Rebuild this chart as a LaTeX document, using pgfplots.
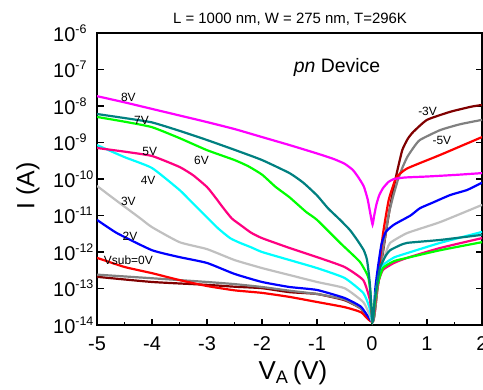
\documentclass[border=0pt]{standalone}
\usepackage{fontspec}
\setmainfont{Liberation Sans}
\usepackage{pgfplots}
\pgfplotsset{compat=1.18}
\usetikzlibrary{calc}
\definecolor{cMag}{RGB}{255,0,255}
\definecolor{cTeal}{RGB}{0,128,128}
\definecolor{cGreen}{RGB}{0,255,0}
\definecolor{cPink}{RGB}{255,0,128}
\definecolor{cCyan}{RGB}{0,255,255}
\definecolor{cLGray}{RGB}{192,192,192}
\definecolor{cBlue}{RGB}{0,0,255}
\definecolor{cRed}{RGB}{255,0,0}
\definecolor{cDRed}{RGB}{128,0,0}
\definecolor{cGray}{RGB}{128,128,128}
\begin{document}
\begin{tikzpicture}
\begin{axis}[name=ax, scale only axis, width=385bp, height=292bp,
  xmin=-5, xmax=2, ymode=log, log basis y=10, ymin=1e-14, ymax=1e-6,
  ytickten={-14,...,-6},
  xtick={-5,...,2}, minor x tick num=1,
  xtick pos=bottom, ytick pos=both,
  tick align=inside,
  axis line style={line width=2.6bp},
  major tick length=6.5bp, minor tick length=3.5bp,
  tick style={black, line width=1.8bp},
  xticklabel style={font=\fontsize{20}{20}\selectfont, /pgf/number format/assume math mode=true, yshift=-8bp},
  yticklabel={10\raisebox{0.42em}{\fontsize{12.5}{12.5}\selectfont\pgfmathprintnumber[assume math mode=true]{\tick}}},
  yticklabel style={font=\fontsize{20}{20}\selectfont, anchor=west, inner sep=0pt, xshift=-44bp},
  every axis plot/.append style={line width=2.2bp, no markers, smooth, tension=0.3},
]
\addplot[cDRed] coordinates {(-5,2.09e-13)(-4,1.51e-13)(-3,1.26e-13)(-2.5,1.12e-13)(-2,1.02e-13)(-1.5,7.94e-14)(-1,7.08e-14)(-0.5,4.79e-14)(-0.2,2.82e-14)(0.02,1.26e-14)(0.1,1.0e-13)(0.2,1.0e-12)(0.28,6.31e-12)(0.33,1.78e-11)(0.4,6.31e-11)(0.45,1.45e-10)(0.55,6.17e-10)(0.65,1.26e-9)(0.75,1.95e-9)(1.0,4.17e-9)(1.42,6.92e-9)(1.8,9.55e-9)(2,1.07e-8)};
\addplot[cGray] coordinates {(-5,2.40e-13)(-4,1.91e-13)(-3,1.51e-13)(-2.5,1.32e-13)(-2,1.10e-13)(-1.5,8.71e-14)(-1,7.08e-14)(-0.5,5.01e-14)(-0.2,2.82e-14)(0.02,1.26e-14)(0.1,1.0e-13)(0.2,1.12e-12)(0.3,1.0e-11)(0.38,3.16e-11)(0.47,9.33e-11)(0.55,2.00e-10)(0.64,3.98e-10)(0.75,7.08e-10)(0.87,1.17e-9)(1.24,2.19e-9)(1.6,3.16e-9)(2,4.17e-9)};
\addplot[cRed] coordinates {(-5,6.92e-13)(-4.5,3.89e-13)(-4,2.63e-13)(-3.5,1.70e-13)(-3,1.17e-13)(-2.5,8.91e-14)(-2,7.59e-14)(-1.5,5.89e-14)(-1,4.27e-14)(-0.5,3.09e-14)(-0.2,2.24e-14)(0.01,1.26e-14)(0.1,1.58e-13)(0.2,3.16e-12)(0.3,2.51e-11)(0.38,6.31e-11)(0.45,1.15e-10)(0.64,1.95e-10)(1.24,4.57e-10)(2,1.41e-9)};
\addplot[cBlue] coordinates {(-5,7.59e-12)(-4.64,3.31e-12)(-4,1.12e-12)(-3.5,7.24e-13)(-3,5.01e-13)(-2.5,2.51e-13)(-2,1.51e-13)(-1.5,1.10e-13)(-1,9.12e-14)(-0.5,5.50e-14)(-0.2,3.16e-14)(0.01,1.26e-14)(0.06,1.0e-13)(0.1,3.16e-13)(0.17,1.58e-12)(0.25,3.55e-12)(0.4,5.62e-12)(0.7,1.0e-11)(0.87,1.58e-11)(1.1,2.24e-11)(1.42,3.63e-11)(1.73,5.01e-11)(2,7.94e-11)};
\addplot[cLGray] coordinates {(-5,6.46e-11)(-4.64,2.51e-11)(-4.22,8.51e-12)(-4,4.79e-12)(-3.5,1.86e-12)(-3,1.20e-12)(-2.5,6.03e-13)(-2,3.63e-13)(-1.5,2.34e-13)(-1,1.51e-13)(-0.5,1.02e-13)(-0.16,4.27e-14)(-0.05,2.00e-14)(0.01,1.26e-14)(0.07,7.94e-14)(0.15,3.16e-13)(0.27,1.12e-12)(0.33,1.78e-12)(0.64,3.31e-12)(1.24,6.61e-12)(2,1.95e-11)};
\addplot[cCyan] coordinates {(-5,8.51e-10)(-4.5,3.98e-10)(-4,2.00e-10)(-3.5,5.01e-11)(-3.3,2.51e-11)(-3.1,1.26e-11)(-2.8,4.47e-12)(-2.58,2.40e-12)(-2.4,1.78e-12)(-2.2,1.35e-12)(-2,1.0e-12)(-1.5,6.03e-13)(-1,3.63e-13)(-0.5,1.95e-13)(-0.16,7.59e-14)(-0.05,3.16e-14)(0.01,1.26e-14)(0.06,6.31e-14)(0.12,2.00e-13)(0.2,4.37e-13)(0.4,7.08e-13)(0.64,9.33e-13)(1.24,1.78e-12)(2,3.55e-12)};
\addplot[cPink] coordinates {(-5,7.08e-10)(-4.5,5.62e-10)(-4,4.27e-10)(-3.5,2.14e-10)(-3.25,1.26e-10)(-3,6.03e-11)(-2.85,3.16e-11)(-2.7,1.58e-11)(-2.55,8.32e-12)(-2.4,5.62e-12)(-2.2,3.39e-12)(-2,2.40e-12)(-1.5,1.29e-12)(-1,7.24e-13)(-0.5,3.89e-13)(-0.16,1.70e-13)(-0.04,5.01e-14)(0.01,1.26e-14)(0.06,5.01e-14)(0.12,1.58e-13)(0.2,3.24e-13)(0.4,5.01e-13)(0.64,6.92e-13)(1.24,1.29e-12)(2,2.40e-12)};
\addplot[cGreen] coordinates {(-5,5.01e-9)(-4.5,3.72e-9)(-4,2.63e-9)(-3.5,1.32e-9)(-3,6.17e-10)(-2.5,3.31e-10)(-2.25,2.24e-10)(-2,1.32e-10)(-1.75,6.03e-11)(-1.5,3.16e-11)(-1.2,1.26e-11)(-1,7.59e-12)(-0.58,1.78e-12)(-0.22,5.37e-13)(-0.07,2.09e-13)(-0.03,7.94e-14)(0.01,1.26e-14)(0.05,3.98e-14)(0.1,1.26e-13)(0.2,3.63e-13)(0.4,5.62e-13)(0.64,6.92e-13)(1.24,1.12e-12)(2,1.86e-12)};
\addplot[cTeal] coordinates {(-5,6.03e-9)(-4.5,4.68e-9)(-4,3.55e-9)(-3.5,2.09e-9)(-3,1.17e-9)(-2.5,6.31e-10)(-2,3.31e-10)(-1.5,1.45e-10)(-1.25,7.94e-11)(-1,3.55e-11)(-0.8,1.58e-11)(-0.58,7.59e-12)(-0.4,3.98e-12)(-0.27,2.14e-12)(-0.15,1.12e-12)(-0.09,6.03e-13)(-0.04,1.41e-13)(0.01,1.26e-14)(0.05,5.01e-14)(0.1,1.58e-13)(0.15,3.89e-13)(0.25,7.94e-13)(0.33,1.12e-12)(0.5,1.51e-12)(0.64,1.78e-12)(1.24,2.14e-12)(2,2.95e-12)};
\addplot[cMag] coordinates {(-5,1.86e-8)(-4.5,1.26e-8)(-4,8.32e-9)(-3.5,5.50e-9)(-3,3.63e-9)(-2.5,2.34e-9)(-2,1.41e-9)(-1.5,8.51e-10)(-1,5.01e-10)(-0.7,3.55e-10)(-0.5,2.63e-10)(-0.35,1.78e-10)(-0.25,1.12e-10)(-0.15,6.31e-11)(-0.08,2.82e-11)(-0.03,1.12e-11)(0.01,5.62e-12)(0.04,1.0e-11)(0.08,2.00e-11)(0.13,3.55e-11)(0.2,5.62e-11)(0.3,8.32e-11)(0.4,1.0e-10)(0.6,1.10e-10)(1,1.17e-10)(1.5,1.29e-10)(2,1.45e-10)};
\begin{scope}[every node/.style={font=\fontsize{12}{12}\selectfont}]
\node at (axis cs:-4.43,1.70e-8) {8V};
\node at (axis cs:-4.19,3.98e-9) {7V};
\node at (axis cs:-4.04,5.62e-10) {5V};
\node at (axis cs:-3.10,3.24e-10) {6V};
\node at (axis cs:-4.07,9.12e-11) {4V};
\node at (axis cs:-4.43,2.51e-11) {3V};
\node at (axis cs:-4.40,2.75e-12) {2V};
\node at (axis cs:-4.43,5.89e-13) {Vsub=0V};
\node at (axis cs:1.01,6.92e-9) {-3V};
\node at (axis cs:1.27,1.12e-9) {-5V};
\end{scope}
\end{axis}
\node[font=\fontsize{15}{15}\selectfont] at ($(ax.north west)+(193bp,14bp)$) {L = 1000 nm, W = 275 nm, T=296K};
\node[font=\fontsize{19.5}{19.5}\selectfont] at ($(ax.north west)+(240bp,-34bp)$) {\textit{pn} Device};
\node[font=\fontsize{26}{26}\selectfont] at ($(ax.south west)+(196bp,-48bp)$) {V\textsubscript{A}\,(V)};
\node[font=\fontsize{25}{25}\selectfont, rotate=90] at ($(ax.south west)+(-69bp,139bp)$) {I (A)};
\pgfresetboundingbox
\path[use as bounding box] ($(ax.south west)+(-97bp,-65bp)$) rectangle ($(ax.north east)+(1bp,33bp)$);
\end{tikzpicture}
\end{document}
